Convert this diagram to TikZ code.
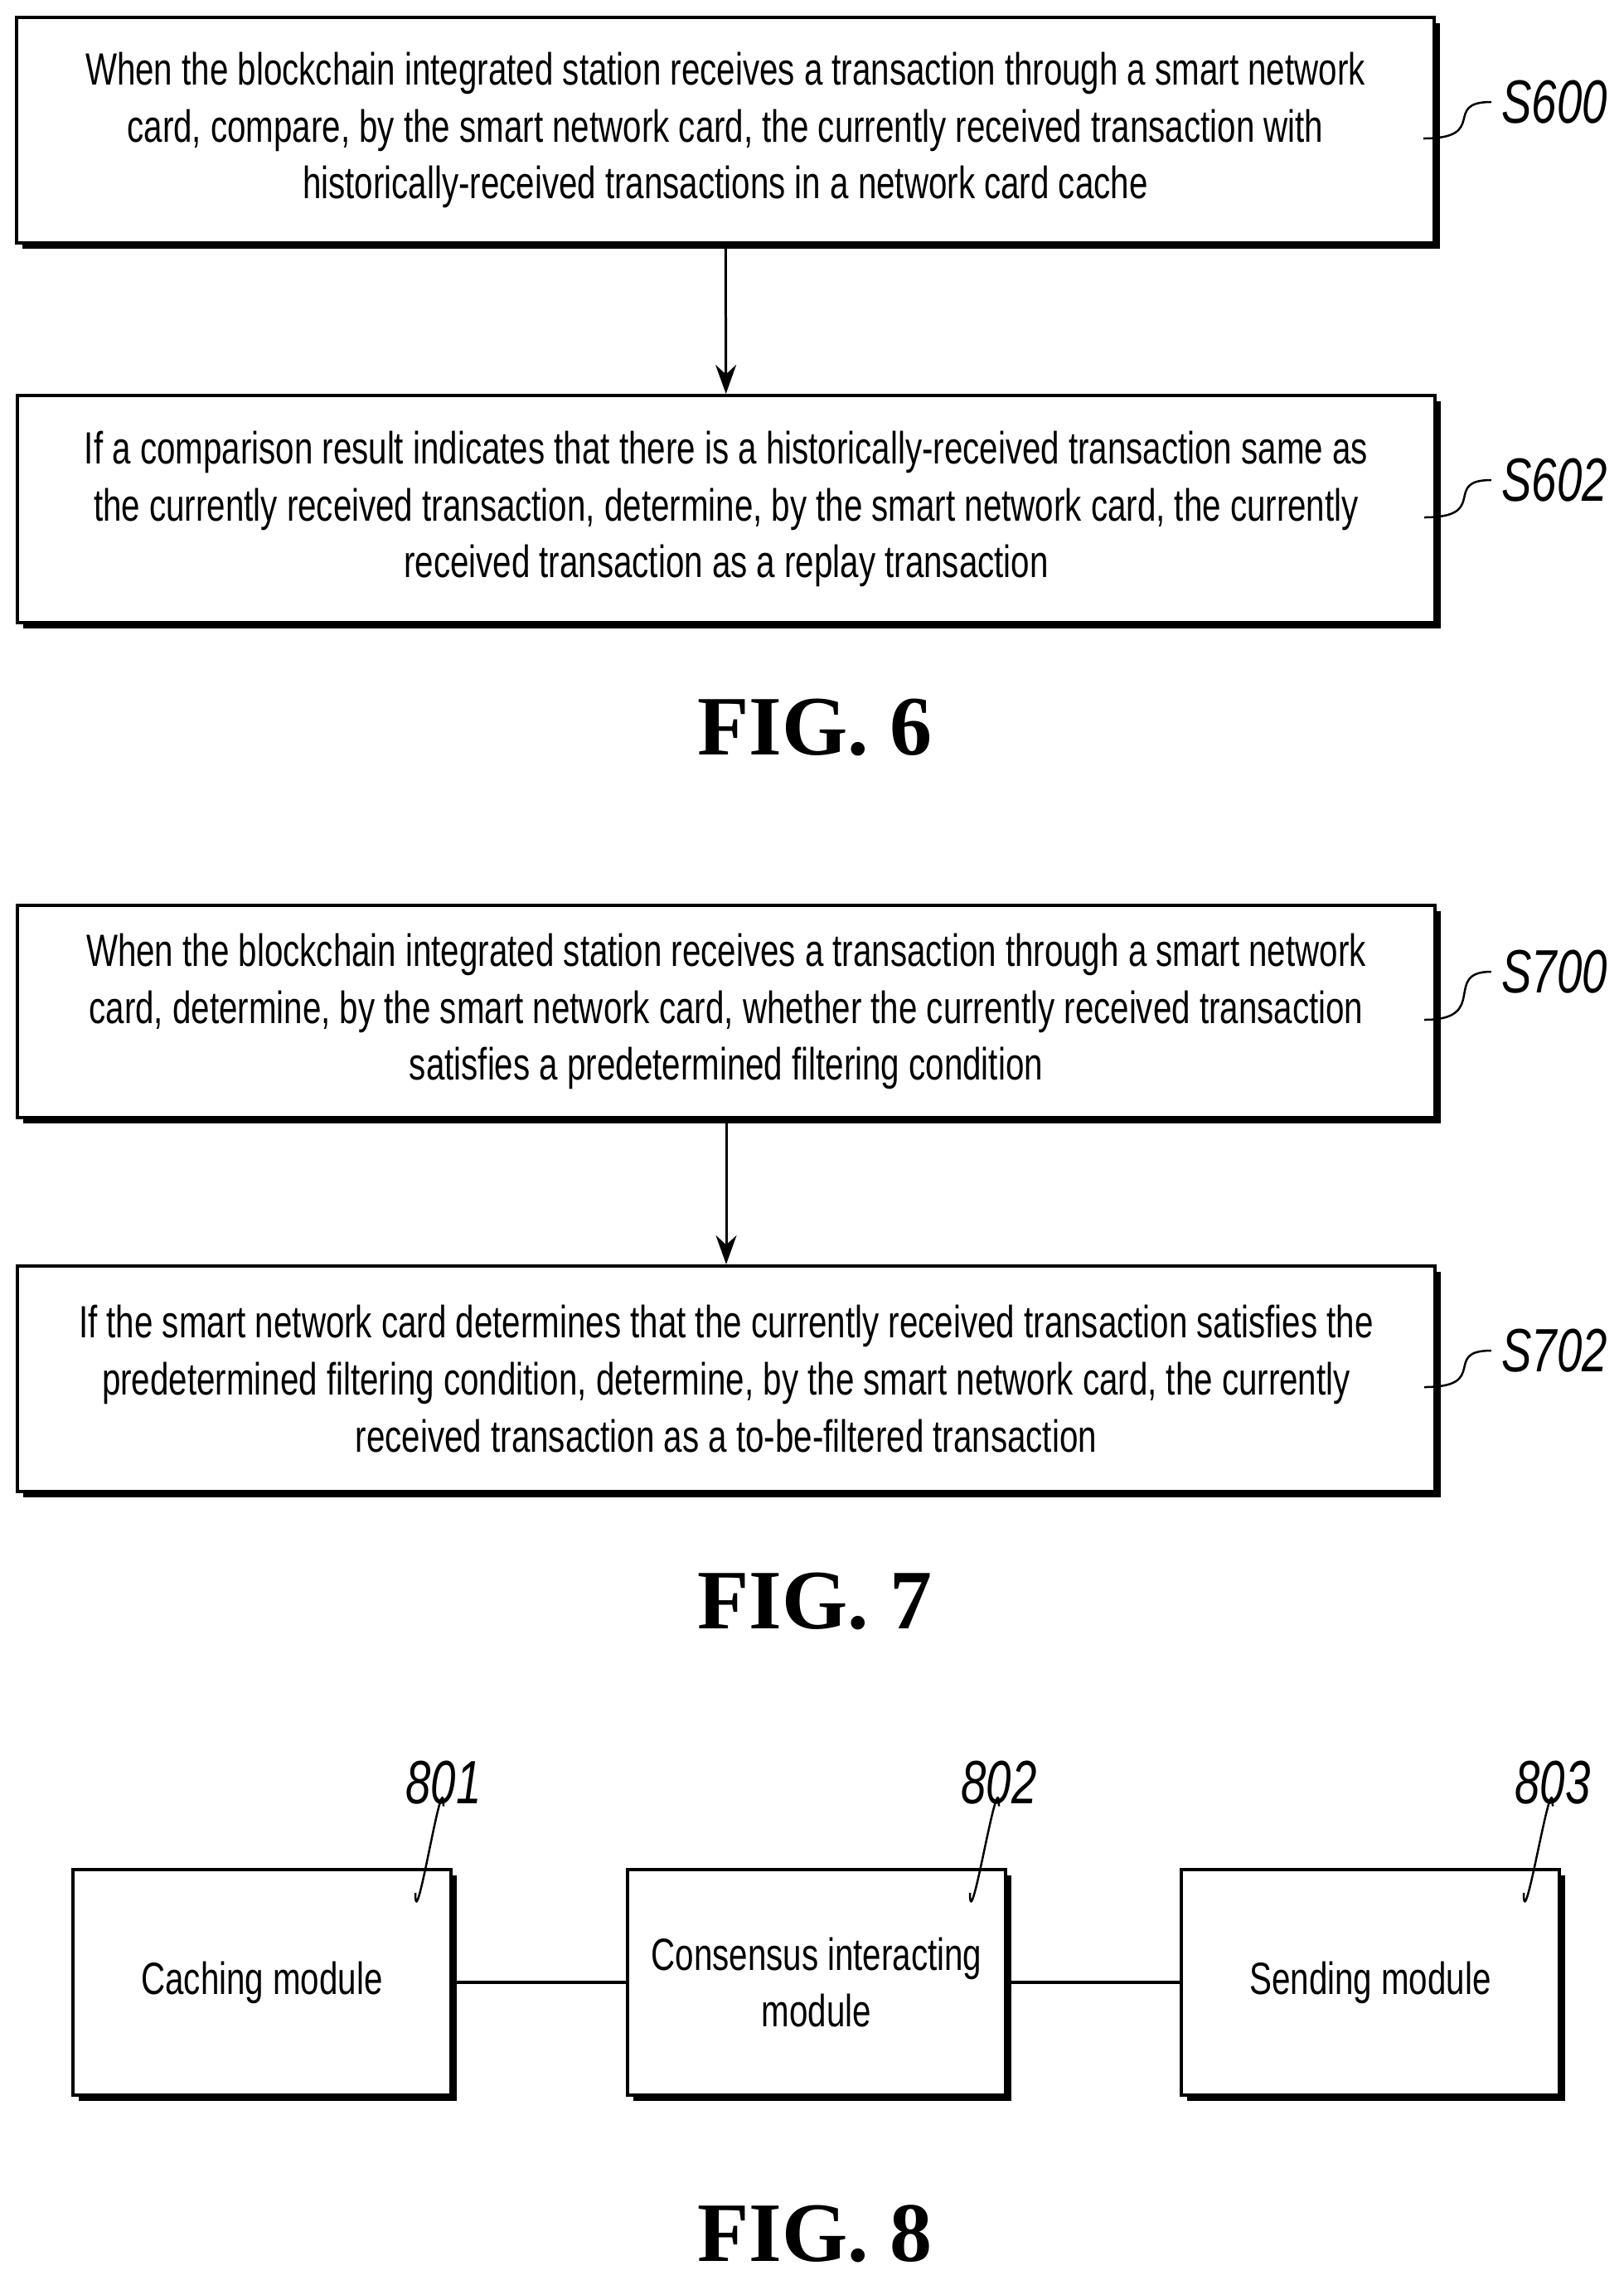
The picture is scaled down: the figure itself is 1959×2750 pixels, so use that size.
\documentclass[tikz,border=0pt]{standalone}
\usepackage{fontspec}
\setmainfont{Liberation Sans}[FakeStretch=0.74]
\newfontfamily\figfont{Liberation Serif}
\usetikzlibrary{shadows,arrows.meta}
\tikzset{
	stepbox/.style={draw=black,line width=0.4mm,fill=white,align=center,
		minimum width=171mm,font=\fontsize{15.5}{19.5}\selectfont,
		drop shadow={shadow xshift=0.7mm,shadow yshift=-0.7mm,opacity=1,fill=black}},
	module/.style={stepbox,minimum width=45.6mm,minimum height=27.2mm},
	tag/.style={font=\fontsize{21}{24}\selectfont\itshape},
	figlabel/.style={font=\figfont\bfseries\fontsize{29}{32}\selectfont},
	leader/.style={line width=0.25mm}
}
\begin{document}
\begin{tikzpicture}[x=0.1mm,y=-0.1mm]
	\useasboundingbox (0,0) rectangle (1959,2750);
	% FIG. 6
	\node[stepbox,minimum height=27.2mm] (s600) at (875,157) {When the blockchain integrated station receives a transaction through a smart network\\card, compare, by the smart network card, the currently received transaction with\\historically-received transactions in a network card cache};
	\node[stepbox,minimum height=27.4mm] (s602) at (876,614) {If a comparison result indicates that there is a historically-received transaction same as\\the currently received transaction, determine, by the smart network card, the currently\\received transaction as a replay transaction};
	\draw[line width=0.3mm,-{Stealth[length=3.5mm,width=2.5mm]}] (s600) -- (s602);
	\node[tag] (l600) at (1875,123) {S600};
	\node[tag] (l602) at (1875,579) {S602};
	\draw[leader] ([xshift=-1.5mm,yshift=-1mm]s600.east) .. controls +(8mm,0) and +(-6mm,0) .. (l600.west);
	\draw[leader] ([xshift=-1.5mm,yshift=-1mm]s602.east) .. controls +(8mm,0) and +(-6mm,0) .. (l602.west);
	\node[figlabel] (fig6) at (983,877) {FIG. 6};
	% FIG. 7
	\node[stepbox,minimum height=25.6mm] (s700) at (876,1220) {When the blockchain integrated station receives a transaction through a smart network\\card, determine, by the smart network card, whether the currently received transaction\\satisfies a predetermined filtering condition};
	\node[stepbox,minimum height=27.2mm] (s702) at (876,1663) {If the smart network card determines that the currently received transaction satisfies the\\predetermined filtering condition, determine, by the smart network card, the currently\\received transaction as a to-be-filtered transaction};
	\draw[line width=0.3mm,-{Stealth[length=3.5mm,width=2.5mm]}] (s700) -- (s702);
	\node[tag] (l700) at (1875,1172) {S700};
	\node[tag] (l702) at (1875,1629) {S702};
	\draw[leader] ([xshift=-1.5mm,yshift=-1mm]s700.east) .. controls +(8mm,0) and +(-6mm,0) .. (l700.west);
	\draw[leader] ([xshift=-1.5mm,yshift=-1mm]s702.east) .. controls +(8mm,0) and +(-6mm,0) .. (l702.west);
	\node[figlabel] (fig7) at (983,1931) {FIG. 7};
	% FIG. 8
	\node[module] (m801) at (316,2391) {Caching module};
	\node[module] (m802) at (985,2391) {Consensus interacting\\module};
	\node[module] (m803) at (1653,2391) {Sending module};
	\draw[line width=0.4mm] (m801) -- (m802);
	\draw[line width=0.4mm] (m802) -- (m803);
	\foreach \m/\x in {801/535,802/1205,803/1873}{
		\node[tag] (l\m) at (\x,2150) {\m};
		\draw[leader] ([yshift=1mm]l\m.south) .. controls +(0,6mm) and +(0,-6mm) .. ([xshift=-4.5mm,yshift=-3mm]m\m.north east);
	}
	\node[figlabel] (fig8) at (983,2694) {FIG. 8};
\end{tikzpicture}
\end{document}
